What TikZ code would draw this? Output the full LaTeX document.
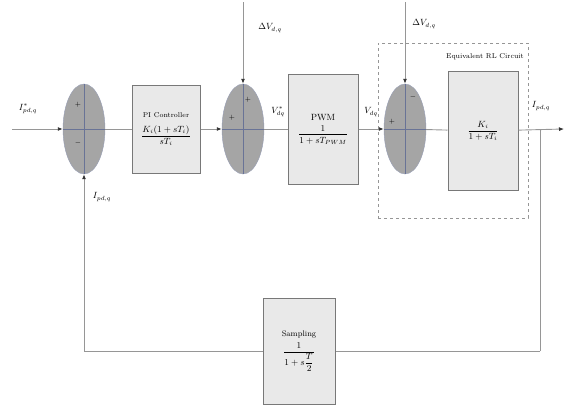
\documentclass[tikz,border=0pt]{standalone}
\usepackage{amsmath}
\usetikzlibrary{shapes.geometric,arrows.meta}
\definecolor{sumfill}{RGB}{165,165,165}
\definecolor{boxfill}{RGB}{233,233,233}
\definecolor{wire}{RGB}{150,150,150}
\definecolor{crossline}{RGB}{105,115,150}
\begin{document}
\begin{tikzpicture}[x=1pt,y=-1pt,>={Latex[length=5pt,width=4pt,color=black!80]},
    every edge/.append style={draw=wire,line width=0.9pt},
    sum node/.style={ellipse,draw=crossline!70,fill=sumfill,minimum width=42pt,minimum height=90pt,inner sep=0pt},
    block node/.style={rectangle,draw=wire!80!black,fill=boxfill,line width=1pt,minimum width=70pt,align=center,font=\small},
    sign node/.style={font=\scriptsize,inner sep=0pt},
    label node/.style={font=\small,inner sep=1pt}]
                \useasboundingbox (0,0) rectangle (566,407);

                \node[draw=wire,dashed,line width=0.6pt,minimum width=150pt,minimum height=175pt] at (453, 130.5) (rl) {};
                \node[label node,font=\scriptsize] at (485, 57) (rltitle) {Equivalent RL Circuit};

                \node[sum node] at (84, 129) (s1) {};
                \node[sum node] at (243, 129) (s2) {};
                \node[sum node] at (405, 129) (s3) {};
                \foreach \s in {s1,s2,s3} {
                    \draw[crossline,line width=0.6pt] (\s.north) -- (\s.south) (\s.west) -- (\s.east);
                }

                \node[block node,minimum width=68pt,minimum height=88pt] at (166, 129) (pi) {{\scriptsize PI Controller}\\[8pt] $\dfrac{K_i(1+sT_i)}{sT_i}$};
                \node[block node,minimum height=110pt] at (323, 129) (pwm) {PWM\\[4pt] $\dfrac{1}{1+sT_{PWM}}$};
                \node[block node,minimum height=119pt] at (483, 131) (plant) {$\dfrac{K_i}{1+sT_i}$};
                \node[block node,minimum width=72pt,minimum height=106pt] at (299, 351) (samp) {{\footnotesize Sampling}\\[4pt] $\dfrac{1}{1+s\dfrac{T}{2}}$};

                \coordinate (in) at (12, 129);
                \coordinate (out) at (564, 129);
                \coordinate (tap) at (540, 129);
                \coordinate (dv1) at (243, 2);
                \coordinate (dv2) at (405, 2);
                \coordinate (fbr) at (540, 351);
                \coordinate (fbl) at (84, 351);

                \path[->] (in) edge node {} (s1);
                \path (s1) edge node {} (pi);
                \path[->] (pi) edge node {} (s2);
                \path (s2) edge node {} (pwm);
                \path[->] (pwm) edge node {} (s3);
                \path (s3) edge node {} (plant);
                \path[->] (plant) edge node {} (out);
                \path[->] (dv1) edge node {} (s2);
                \path[->] (dv2) edge node {} (s3);
                \path (tap) edge node {} (fbr)
                      (fbr) edge node {} (samp)
                      (samp) edge node {} (fbl);
                \path[->] (fbl) edge node {} (s1);

                \node[label node] at (28, 109) (iref) {$I^{*}_{pd,q}$};
                \node[label node] at (102, 197) (ifb) {$I_{pd,q}$};
                \node[label node] at (270, 28) (d1) {$\Delta V_{d,q}$};
                \node[label node] at (278, 112) (vref) {$V^{*}_{dq}$};
                \node[label node] at (371, 112) (vdq) {$V_{dq}$};
                \node[label node] at (424, 24) (d2) {$\Delta V_{d,q}$};
                \node[label node] at (541, 106) (iout) {$I_{pd,q}$};

                \node[sign node] at (78, 105) {$+$};
                \node[sign node] at (78, 143) {$-$};
                \node[sign node] at (248, 100) {$+$};
                \node[sign node] at (232, 118) {$+$};
                \node[sign node] at (392, 122) {$+$};
                \node[sign node] at (413, 97) {$-$};
            \end{tikzpicture}
\end{document}
